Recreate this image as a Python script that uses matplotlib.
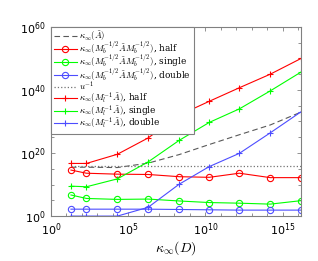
import matplotlib
matplotlib.use('Agg')
import matplotlib.pyplot as plt
from matplotlib.font_manager import FontProperties
import numpy as np

# kappa_inf(D) (exponents)
kd_exp = [1.3, 2.3, 4.3, 6.3, 8.3, 10.25, 12.2, 14.2, 16.2]

# series exponents (log10 of kappa)
kA_exp = [15.5, 15.5, 15.4, 16.8, 19.5, 22.7, 25.8, 28.9, 33.0]
mb_half = [14.6, 13.6, 13.3, 13.2, 12.5, 12.3, 13.6, 12.2, 12.2]
mb_single = [6.7, 5.6, 5.3, 5.4, 4.8, 4.3, 4.1, 3.8, 4.9]
mb_double = [2.2, 2.2, 2.2, 2.2, 2.1, 2.0, 1.9, 1.9, 1.9]
ml_half = [16.7, 16.7, 19.6, 24.8, 32.0, 36.4, 40.7, 45.0, 50.0]
ml_single = [9.5, 9.3, 11.8, 17.2, 24.0, 29.7, 34.0, 39.7, 45.7]
ml_double = [0.0, 0.0, 0.0, 2.8, 10.1, 15.7, 19.9, 26.4, 33.1]
u_inv = 2.0 ** 53

x = 10.0 ** np.array(kd_exp)
p = lambda e: 10.0 ** np.array(e)

plt.rcParams['font.family'] = ['Liberation Sans', 'DejaVu Sans']

fig = plt.figure(figsize=(3.18, 2.61), dpi=100)
ax = fig.add_axes([0.160, 0.172, 0.787, 0.725])

lw = 0.8
ax.plot(x, p(kA_exp), '--', color='0.35', lw=lw, dashes=(5, 3), label=r'$\kappa_\infty(\tilde{A})$')
ax.plot(x, p(mb_half), '-o', color='r', lw=lw, ms=4.5, mfc='none', mew=0.8,
        label=r'$\kappa_\infty(M_b^{-1/2}\tilde{A}M_b^{-1/2})$, half')
ax.plot(x, p(mb_single), '-o', color=(0, 1, 0), lw=lw, ms=4.5, mfc='none', mew=0.8,
        label=r'$\kappa_\infty(M_b^{-1/2}\tilde{A}M_b^{-1/2})$, single')
ax.plot(x, p(mb_double), '-o', color=(0.3, 0.3, 1), lw=lw, ms=4.5, mfc='none', mew=0.8,
        label=r'$\kappa_\infty(M_b^{-1/2}\tilde{A}M_b^{-1/2})$, double')
ax.plot(x, [u_inv] * len(x), ':', color='0.45', lw=0.9, label=r'$u^{-1}$')
ax.plot(x, p(ml_half), '-+', color='r', lw=lw, ms=5, mew=0.8,
        label=r'$\kappa_\infty(M_l^{-1}\tilde{A})$, half')
ax.plot(x, p(ml_single), '-+', color=(0, 1, 0), lw=lw, ms=5, mew=0.8,
        label=r'$\kappa_\infty(M_l^{-1}\tilde{A})$, single')
ax.plot(x, p(ml_double), '-+', color=(0.3, 0.3, 1), lw=lw, ms=5, mew=0.8,
        label=r'$\kappa_\infty(M_l^{-1}\tilde{A})$, double')

ax.set_xscale('log')
ax.set_yscale('log')
ax.set_xlim(1, 10 ** 16.2)
ax.set_ylim(1, 1e60)

ax.set_xticks([1, 1e5, 1e10, 1e15])
ax.set_xticks([10.0 ** k for k in range(0, 17)], minor=True)
ax.set_xticklabels([r'$10^{0}$', r'$10^{5}$', r'$10^{10}$', r'$10^{15}$'], minor=False)
ax.set_yticks([1, 1e20, 1e40, 1e60])
ax.set_yticks([10.0 ** k for k in range(0, 61, 5)], minor=True)
ax.set_yticklabels([r'$10^{0}$', r'$10^{20}$', r'$10^{40}$', r'$10^{60}$'])
ax.xaxis.set_minor_formatter(matplotlib.ticker.NullFormatter())
ax.yaxis.set_minor_formatter(matplotlib.ticker.NullFormatter())
ax.tick_params(which='both', direction='in', top=True, right=True, labelsize=8,
               color='0.4', width=0.5)
ax.tick_params(which='major', length=3)
ax.tick_params(which='minor', length=2)
for s in ax.spines.values():
    s.set_color('0.5')
    s.set_linewidth(0.8)

lab_font = FontProperties(family='serif', math_fontfamily='cm', size=10)
ax.set_xlabel(r'$\kappa_\infty(D)$', fontproperties=lab_font, labelpad=1)

leg_font = FontProperties(family='DejaVu Serif', math_fontfamily='cm', size=6.4)
leg = ax.legend(loc='upper left', prop=leg_font, borderaxespad=0, fancybox=False,
                framealpha=1, edgecolor='0.5', handlelength=2.6, handletextpad=0.3,
                labelspacing=-0.3, borderpad=0.3)
leg.get_frame().set_linewidth(0.8)

fig.savefig('out.png', dpi=100)
